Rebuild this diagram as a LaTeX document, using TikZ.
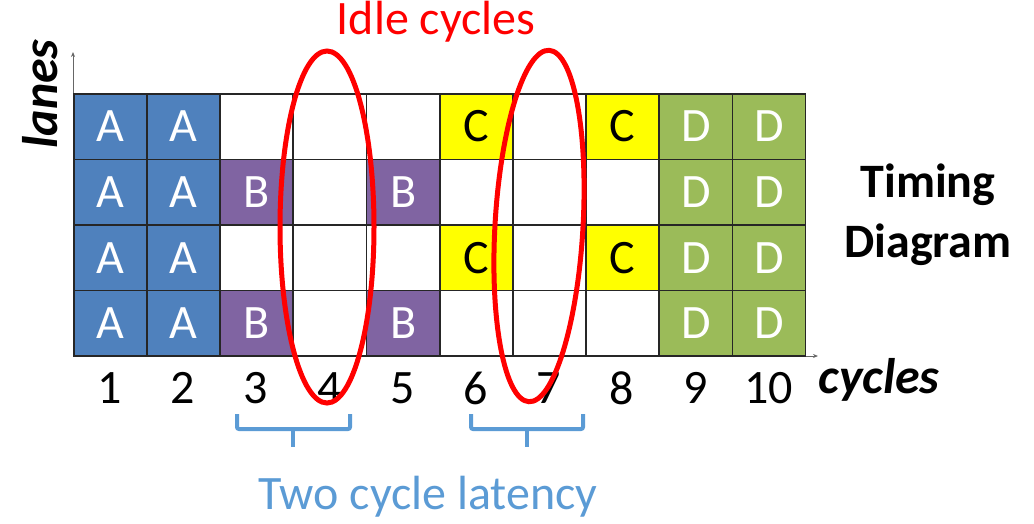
\documentclass[tikz,border=0pt]{standalone}
\usepackage{fontspec}
\setmainfont{Carlito}
\usetikzlibrary{arrows.meta}
\definecolor{laneA}{HTML}{4F81BD}
\definecolor{laneB}{HTML}{8064A2}
\definecolor{laneC}{HTML}{FFFF00}
\definecolor{laneD}{HTML}{9BBB59}
\definecolor{idle}{HTML}{FF0000}
\definecolor{latency}{HTML}{5B9BD5}
\tikzset{
  cell/.style={draw=black!85, line width=1.6pt, minimum width=73pt, minimum height=65.5pt,
    inner sep=0pt, anchor=north west, font=\fontsize{48}{52}\selectfont},
  cA/.style={cell, fill=laneA, text=white},
  cB/.style={cell, fill=laneB, text=white},
  cC/.style={cell, fill=laneC, text=black},
  cD/.style={cell, fill=laneD, text=white},
  cE/.style={cell, fill=white},
  axis/.style={draw=black!60, line width=1pt, -{Stealth[length=5pt,width=4pt]}},
  num/.style={font=\fontsize{48}{52}\selectfont, text=black},
  axlabel/.style={font=\fontsize{50}{54}\selectfont\bfseries\itshape},
  idlering/.style={draw=idle, line width=5pt},
  bracket/.style={draw=latency, line width=4pt, rounded corners=2pt},
}
\begin{document}
\begin{tikzpicture}[x=1pt,y=-1pt]
\useasboundingbox (0,0) rectangle (1034,523);
% axes
\coordinate (O) at (73,356);
\coordinate (ytop) at (73,52);
\coordinate (xend) at (818,356);
\draw[axis] (O) -- (ytop);
\draw[axis] (O) -- (xend);
% lanes x cycles grid (E = empty slot)
\foreach \r/\row in {1/{A,A,E,E,E,C,E,C,D,D},
                     2/{A,A,B,E,B,E,E,E,D,D},
                     3/{A,A,E,E,E,C,E,C,D,D},
                     4/{A,A,B,E,B,E,E,E,D,D}}{
  \foreach \kind [count=\c] in \row {
    \if\kind E
      \node[cE] (cell-\r-\c) at ({73+73.2*(\c-1)},{93+65.6*(\r-1)}) {};
    \else
      \node[c\kind] (cell-\r-\c) at ({73+73.2*(\c-1)},{93+65.6*(\r-1)}) {\kind};
    \fi
  }
}
% cycle numbers
\foreach \c in {1,...,10}{
  \node[num] (num-\c) at ({73+73.2*(\c-0.5)},388) {\c};
}
\node[axlabel] (cycles) at (879,380) {cycles};
\node[axlabel, rotate=90] (lanes) at (40,94) {lanes};
\node[font=\fontsize{48}{60}\selectfont\bfseries, align=center] (title) at (928,215) {Timing\\Diagram};
% idle cycles
\node[text=idle, font=\fontsize{48}{52}\selectfont] (idletext) at (436,22) {Idle cycles};
\draw[idlering] (327,227) ellipse [x radius=47pt, y radius=176pt];
\draw[idlering, rotate around={-3.3:(539,226)}] (539,226) ellipse [x radius=44pt, y radius=176pt];
% two cycle latency brackets
\coordinate (b1l) at (237,414);
\coordinate (b1r) at (350,414);
\coordinate (b1m) at (293,447);
\coordinate (b2l) at (471,414);
\coordinate (b2r) at (583,414);
\coordinate (b2m) at (527,447);
\draw[bracket] (b1l) -- (237,429) -- (350,429) -- (b1r);
\draw[bracket] (293,429) -- (b1m);
\draw[bracket] (b2l) -- (471,429) -- (583,429) -- (b2r);
\draw[bracket] (527,429) -- (b2m);
\node[text=latency, font=\fontsize{48}{52}\selectfont] (latencytext) at (428,497) {Two cycle latency};
\end{tikzpicture}
\end{document}
